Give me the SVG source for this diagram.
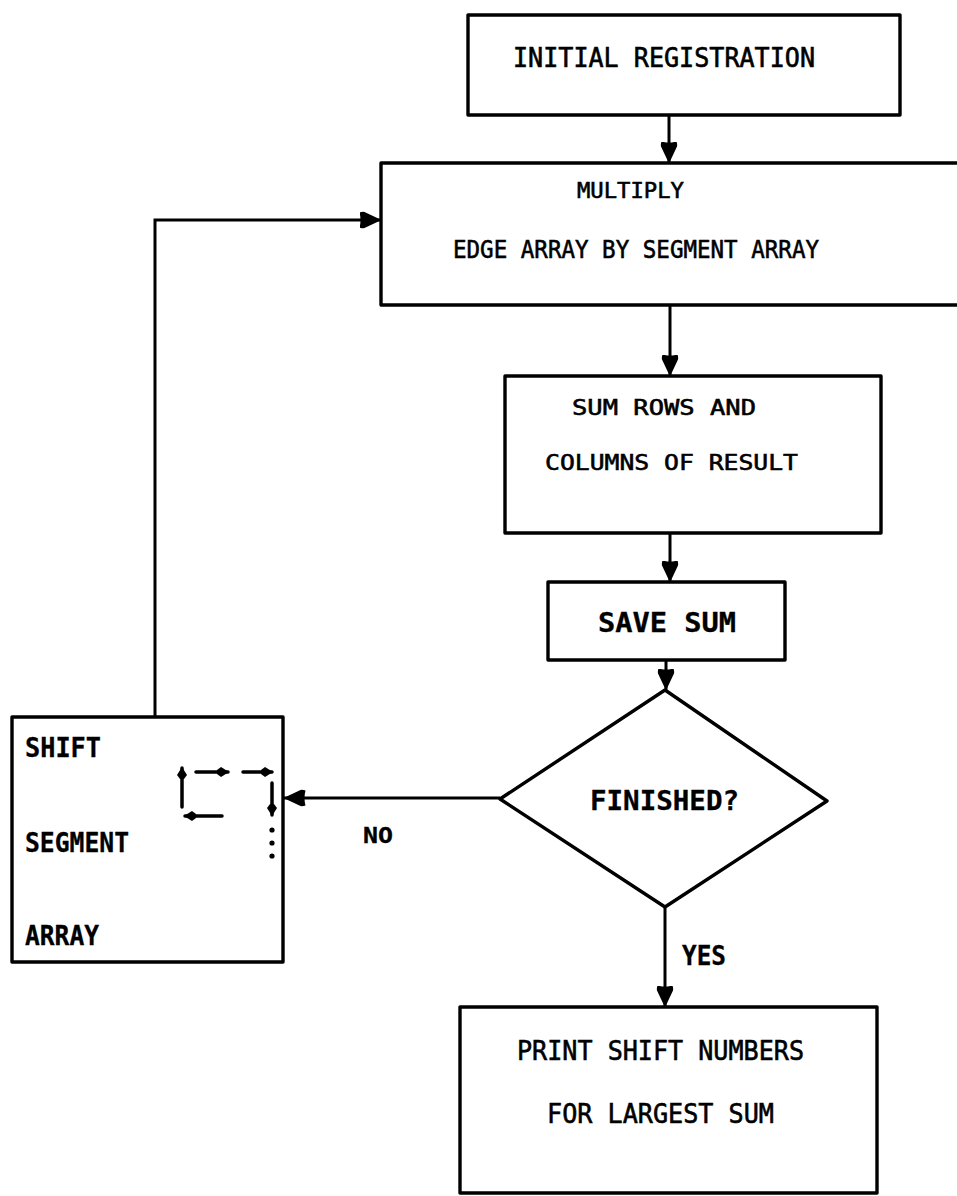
<svg xmlns="http://www.w3.org/2000/svg" width="957" height="1196" viewBox="0 0 957 1196">
<style>
.box{fill:#fff;stroke:#000;stroke-width:3.4;stroke-linejoin:round}
.conn{fill:none;stroke:#000;stroke-width:3}
.small{fill:none;stroke:#000;stroke-width:3.5;stroke-linecap:round}
.t{font-family:"DejaVu Sans Mono","Liberation Mono",monospace;font-size:24px;fill:#000;stroke:#000;stroke-width:0.6}
.b{font-weight:bold;stroke-width:0.3}
</style>
<defs>
<marker id="ah" viewBox="0 0 22 18" refX="21.5" refY="9" markerWidth="22" markerHeight="18" markerUnits="userSpaceOnUse" orient="auto">
<path d="M0,1.5 Q3,0.5 5,1 L22,9 L5,17 Q3,17.5 0,16.5 Q2,9 0,1.5 Z" fill="#000"/>
</marker>
<marker id="sh" viewBox="0 0 12 10" refX="11" refY="5" markerWidth="12" markerHeight="10" markerUnits="userSpaceOnUse" orient="auto">
<path d="M0,3 L4,0 L12,5 L4,10 L0,7 Z" fill="#000"/>
</marker>
</defs>
<rect width="957" height="1196" fill="#fff"/>
<g id="connectors">
<line class="conn" x1="669" y1="115" x2="669" y2="163" marker-end="url(#ah)"/>
<line class="conn" x1="670" y1="304" x2="670" y2="376" marker-end="url(#ah)"/>
<line class="conn" x1="670" y1="533" x2="670" y2="582" marker-end="url(#ah)"/>
<line class="conn" x1="666" y1="660" x2="666" y2="690" marker-end="url(#ah)"/>
<line class="conn" x1="500" y1="798" x2="284" y2="798" marker-end="url(#ah)"/>
<line class="conn" x1="665" y1="907" x2="665" y2="1007" marker-end="url(#ah)"/>
<path class="conn" d="M155,717 V220 H381" marker-end="url(#ah)"/>
<text class="t b" x="363" y="843" textLength="30" lengthAdjust="spacingAndGlyphs" style="font-size:22px">NO</text>
<text class="t b" x="682" y="965" textLength="44" lengthAdjust="spacingAndGlyphs" style="font-size:26px">YES</text>
</g>
<g id="initial">
<rect class="box" x="468" y="15" width="432" height="100"/>
<text class="t" x="513" y="67" textLength="302" lengthAdjust="spacingAndGlyphs" style="font-size:26px">INITIAL REGISTRATION</text>
</g>
<g id="multiply">
<rect class="box" x="381" y="163" width="590" height="142"/>
<text class="t" x="577" y="198" textLength="107" lengthAdjust="spacingAndGlyphs" style="font-size:22px">MULTIPLY</text>
<text class="t" x="453" y="258" textLength="366" lengthAdjust="spacingAndGlyphs" style="font-size:25px">EDGE ARRAY BY SEGMENT ARRAY</text>
</g>
<g id="sumrows">
<rect class="box" x="505" y="376" width="376" height="157"/>
<text class="t" x="572" y="415" textLength="184" lengthAdjust="spacingAndGlyphs" style="font-size:22px">SUM ROWS AND</text>
<text class="t" x="545" y="470" textLength="253" lengthAdjust="spacingAndGlyphs" style="font-size:22px">COLUMNS OF RESULT</text>
</g>
<g id="savesum">
<rect class="box" x="548" y="582" width="237" height="78"/>
<text class="t b" x="598" y="632" textLength="138" lengthAdjust="spacingAndGlyphs" style="font-size:26px">SAVE SUM</text>
</g>
<g id="finished">
<polygon class="box" points="665,690 827,801 665,907 500,799"/>
<text class="t b" x="590" y="810" textLength="149" lengthAdjust="spacingAndGlyphs" style="font-size:27px">FINISHED?</text>
</g>
<g id="shift">
<rect class="box" x="12" y="717" width="271" height="245"/>
<text class="t b" x="25" y="757" textLength="76" lengthAdjust="spacingAndGlyphs" style="font-size:27px">SHIFT</text>
<text class="t b" x="25" y="852" textLength="104" lengthAdjust="spacingAndGlyphs" style="font-size:27px">SEGMENT</text>
<text class="t b" x="25" y="945" textLength="74" lengthAdjust="spacingAndGlyphs" style="font-size:27px">ARRAY</text>
<line class="small" x1="182" y1="807" x2="182" y2="768" marker-end="url(#sh)"/>
<line class="small" x1="196" y1="772" x2="228" y2="772" marker-end="url(#sh)"/>
<line class="small" x1="243" y1="772" x2="272" y2="772" marker-end="url(#sh)"/>
<line class="small" x1="272" y1="783" x2="272" y2="815" marker-end="url(#sh)"/>
<line class="small" x1="222" y1="816" x2="185" y2="816" marker-end="url(#sh)"/>
<circle cx="272" cy="830" r="2.6" fill="#000"/>
<circle cx="272" cy="843" r="2.6" fill="#000"/>
<circle cx="272" cy="856" r="2.6" fill="#000"/>
</g>
<g id="print">
<rect class="box" x="460" y="1007" width="417" height="186"/>
<text class="t" x="517" y="1060" textLength="287" lengthAdjust="spacingAndGlyphs" style="font-size:27px">PRINT SHIFT NUMBERS</text>
<text class="t" x="547" y="1123" textLength="227" lengthAdjust="spacingAndGlyphs" style="font-size:27px">FOR LARGEST SUM</text>
</g>
</svg>
